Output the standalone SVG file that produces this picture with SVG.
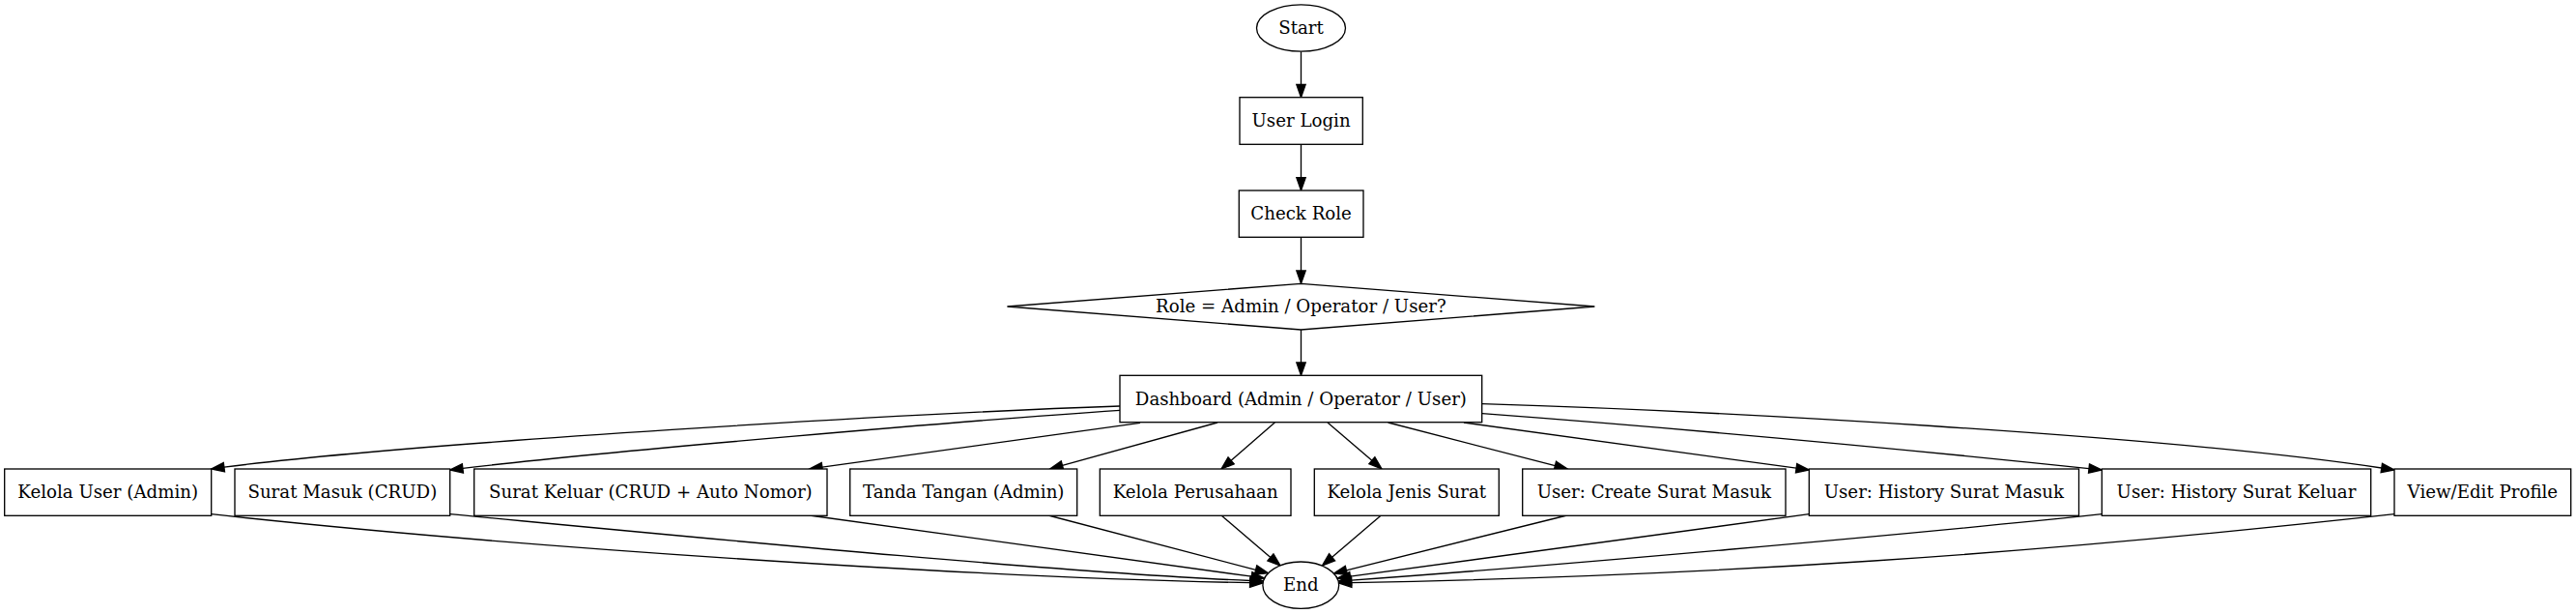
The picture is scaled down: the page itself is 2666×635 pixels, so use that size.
<svg xmlns="http://www.w3.org/2000/svg" width="2666" height="635" viewBox="0 0 2666 635">
<style>
.nd{fill:#fff;stroke:#000;stroke-width:1.33}
.lb{font-family:"DejaVu Serif","Liberation Serif",serif;font-size:18.2px;fill:#000;text-anchor:middle}
.ed{fill:none;stroke:#000;stroke-width:1.33;marker-end:url(#ah)}
</style>
<defs>
<marker id="ah" markerUnits="userSpaceOnUse" viewBox="0 0 13.33 9.33" refX="0" refY="4.67" markerWidth="13.33" markerHeight="9.33" orient="auto" overflow="visible">
<path d="M0,0 L13.33,4.67 L0,9.33 z" fill="#000" stroke="#000" stroke-width="1.33"/>
</marker>
</defs>
<rect width="2666" height="635" fill="#fff"/>
<g id="edges">
<path class="ed" d="M1346.5,53.3 L1346.5,87.4"/>
<path class="ed" d="M1346.5,149.3 L1346.5,183.7"/>
<path class="ed" d="M1346.5,245.3 L1346.5,280"/>
<path class="ed" d="M1346.5,341 L1346.5,375"/>
<path class="ed" d="M1159,420 C959,426.8 432,457.2 231.9,483.2"/>
<path class="ed" d="M1159,424.3 C1009,434.4 628.9,466.4 478.9,484.4"/>
<path class="ed" d="M1180,437.3 L850.9,483.2"/>
<path class="ed" d="M1260,437 L1099.5,481.4"/>
<path class="ed" d="M1319.3,437 L1274.1,476.3"/>
<path class="ed" d="M1374,437 L1419.9,476.3"/>
<path class="ed" d="M1436.7,437 L1609.4,481.7"/>
<path class="ed" d="M1515,437 L1859.1,484.2"/>
<path class="ed" d="M1534,427.7 C1734,442.7 1962,463.6 2162,484.6"/>
<path class="ed" d="M1534,417.7 C1764,424.6 2234.8,449.5 2464.8,484"/>
<path class="ed" d="M218.7,531.7 C518.7,564.7 993.6,596.7 1293.6,602.7"/>
<path class="ed" d="M465.7,531.7 C665.7,550.5 1094,592.5 1294,600.5"/>
<path class="ed" d="M837.7,533 L1295.3,596.2"/>
<path class="ed" d="M1085,533 L1299.6,589.4"/>
<path class="ed" d="M1264,533 L1314.9,576.4"/>
<path class="ed" d="M1429.3,533 L1378.6,576.3"/>
<path class="ed" d="M1621.7,533 L1393.4,589.8"/>
<path class="ed" d="M1872.3,531.7 L1397.4,596.2"/>
<path class="ed" d="M2175.3,531.7 C1976.4,552.7 1597.9,586.1 1398.4,600.1"/>
<path class="ed" d="M2478,531.7 C2100.3,573.5 1778.8,595.1 1398.8,602.7"/>
</g>
<g id="start"><ellipse class="nd" cx="1346.5" cy="29" rx="46" ry="24.2"/><text class="lb" x="1346.5" y="35">Start</text></g>
<g id="login"><rect class="nd" x="1283" y="100.7" width="127.3" height="48.6"/><text class="lb" x="1346.6" y="131">User Login</text></g>
<g id="checkrole"><rect class="nd" x="1282.3" y="197" width="128.7" height="48.3"/><text class="lb" x="1346.6" y="227">Check Role</text></g>
<g id="decision"><polygon class="nd" points="1346.4,293.3 1650.4,317 1346.4,341 1042.4,317"/><text class="lb" x="1346.4" y="323">Role = Admin / Operator / User?</text></g>
<g id="dashboard"><rect class="nd" x="1159" y="388.3" width="374.7" height="48.4"/><text class="lb" x="1346.4" y="418.5">Dashboard (Admin / Operator / User)</text></g>
<g id="kelolauser"><rect class="nd" x="4.7" y="485" width="214" height="48.3"/><text class="lb" x="111.7" y="515">Kelola User (Admin)</text></g>
<g id="suratmasuk"><rect class="nd" x="243" y="485" width="222.7" height="48.3"/><text class="lb" x="354.35" y="515">Surat Masuk (CRUD)</text></g>
<g id="suratkeluar"><rect class="nd" x="490.7" y="485" width="365.3" height="48.3"/><text class="lb" x="673.35" y="515">Surat Keluar (CRUD + Auto Nomor)</text></g>
<g id="tandatangan"><rect class="nd" x="879.7" y="485" width="235" height="48.3"/><text class="lb" x="997.2" y="515">Tanda Tangan (Admin)</text></g>
<g id="perusahaan"><rect class="nd" x="1138.3" y="485" width="197.7" height="48.3"/><text class="lb" x="1237.15" y="515">Kelola Perusahaan</text></g>
<g id="jenissurat"><rect class="nd" x="1360.3" y="485" width="191" height="48.3"/><text class="lb" x="1455.8" y="515">Kelola Jenis Surat</text></g>
<g id="usercreate"><rect class="nd" x="1575.7" y="485" width="272.3" height="48.3"/><text class="lb" x="1711.85" y="515">User: Create Surat Masuk</text></g>
<g id="historymasuk"><rect class="nd" x="1872.3" y="485" width="279.2" height="48.3"/><text class="lb" x="2011.9" y="515">User: History Surat Masuk</text></g>
<g id="historykeluar"><rect class="nd" x="2175.3" y="485" width="278.4" height="48.3"/><text class="lb" x="2314.5" y="515">User: History Surat Keluar</text></g>
<g id="profile"><rect class="nd" x="2478" y="485" width="182.7" height="48.3"/><text class="lb" x="2569.35" y="515">View/Edit Profile</text></g>
<g id="end"><ellipse class="nd" cx="1346.3" cy="605.2" rx="39.4" ry="24.2"/><text class="lb" x="1346.3" y="611.2">End</text></g>
</svg>
